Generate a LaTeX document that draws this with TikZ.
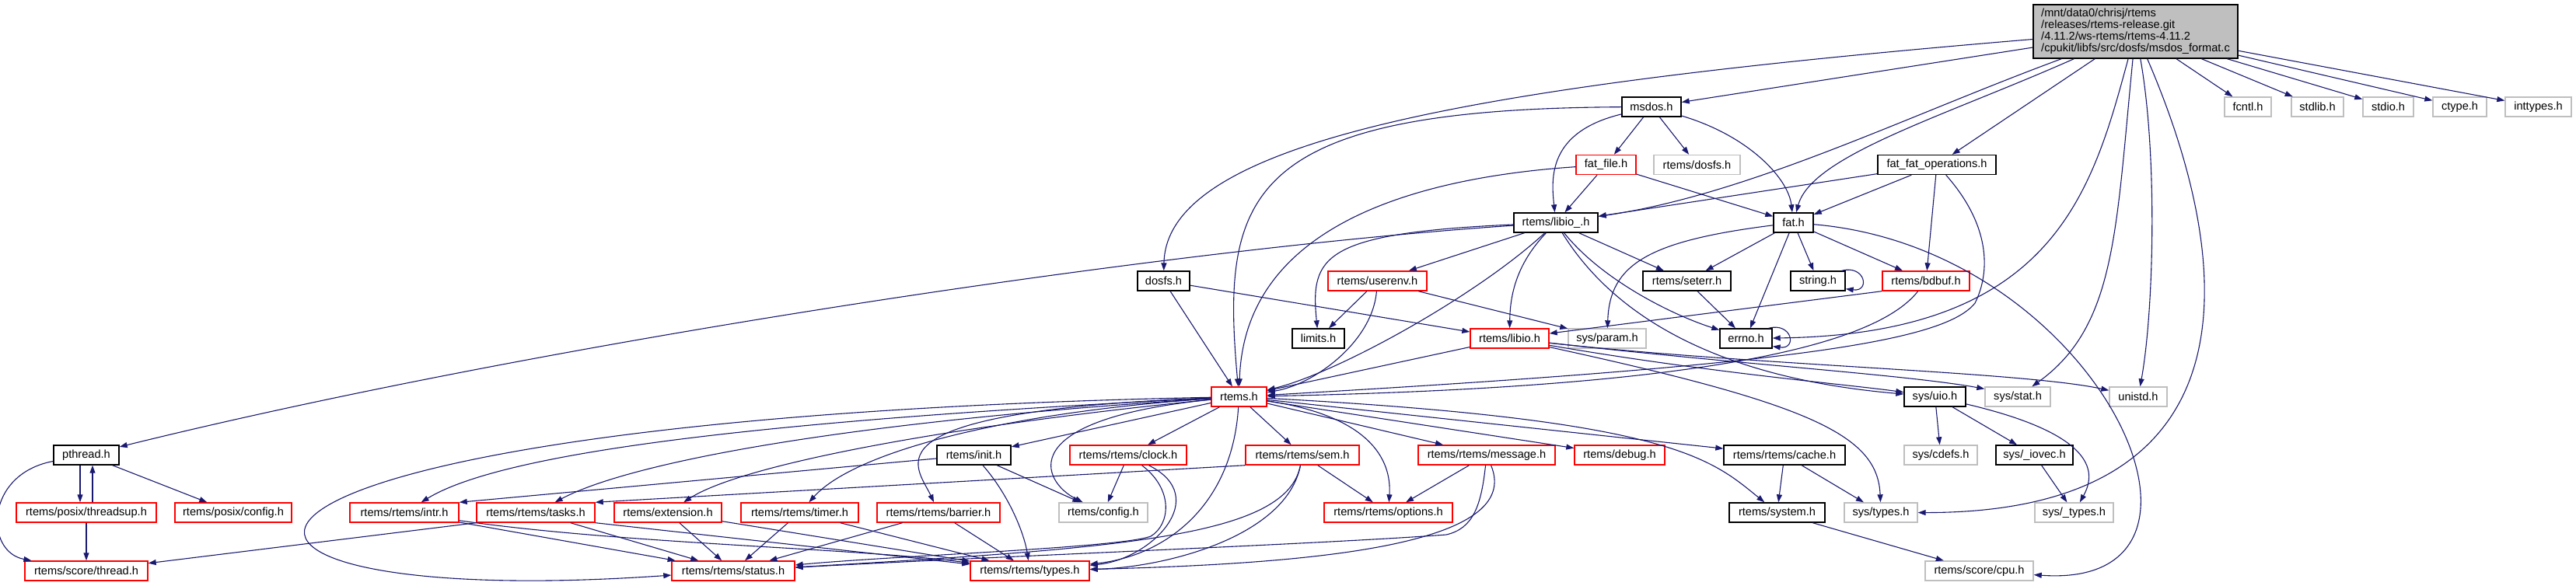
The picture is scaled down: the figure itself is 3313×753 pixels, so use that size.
\documentclass[tikz,border=0pt]{standalone}
\usepackage{fontspec}
\setmainfont{Liberation Sans}
\usetikzlibrary{arrows.meta}
\definecolor{edgeblue}{HTML}{191970}
\definecolor{nodegray}{HTML}{BFBFBF}
\begin{document}
\begin{tikzpicture}[x=1pt,y=1pt]
\tikzstyle{hdr} = [draw=black, line width=1.4pt, fill=white, minimum height=25pt, inner xsep=2pt, inner ysep=0pt, font=\fontsize{14.6}{15}\selectfont]
\tikzstyle{hdrred} = [hdr, draw=red]
\tikzstyle{hdrgray} = [hdr, draw=nodegray]
\tikzstyle{mainbox} = [hdr, fill=nodegray, align=left, minimum height=69pt]
\tikzstyle{inc} = [draw=edgeblue, line width=1.1pt, -{Triangle[length=10pt,width=7pt]}]
\useasboundingbox (0,0) rectangle (3313,-753);
\node[mainbox, minimum width=263pt] (main) at (2746.5,-40.5) {/mnt/data0/chrisj/rtems\\/releases/rtems-release.git\\/4.11.2/ws-rtems/rtems-4.11.2\\/cpukit/libfs/src/dosfs/msdos\_format.c};
\node[hdr, minimum width=76pt] (msdos) at (2124,-137.5) {msdos.h};
\node[hdrgray, minimum width=60pt] (fcntl) at (2891,-137.5) {fcntl.h};
\node[hdrgray, minimum width=67pt] (stdlib) at (2980.5,-137.5) {stdlib.h};
\node[hdrgray, minimum width=65pt] (stdio) at (3071.5,-137.5) {stdio.h};
\node[hdrgray, minimum width=69pt] (ctype) at (3163.5,-137.5) {ctype.h};
\node[hdrgray, minimum width=85pt] (inttypes) at (3264.5,-137.5) {inttypes.h};
\node[hdrred, minimum width=77pt] (fatfile) at (2065.5,-212) {fat\_file.h};
\node[hdrgray, minimum width=111pt] (rdosfs) at (2182.5,-212) {rtems/dosfs.h};
\node[hdr, minimum width=152pt] (ffo) at (2491,-212) {fat\_fat\_operations.h};
\node[hdr, minimum width=108pt] (libiou) at (2001,-286.5) {rtems/libio\_.h};
\node[hdr, minimum width=51pt] (fat) at (2306.5,-286.5) {fat.h};
\node[hdr, minimum width=67pt] (dosfs) at (1496.5,-361.5) {dosfs.h};
\node[hdrred, minimum width=127pt] (userenv) at (1771.5,-361.5) {rtems/userenv.h};
\node[hdr, minimum width=113pt] (seterr) at (2169.5,-361.5) {rtems/seterr.h};
\node[hdr, minimum width=70pt] (string) at (2338,-361.5) {string.h};
\node[hdrred, minimum width=112pt] (bdbuf) at (2477,-361.5) {rtems/bdbuf.h};
\node[hdr, minimum width=67pt] (limits) at (1695.5,-435.5) {limits.h};
\node[hdrred, minimum width=101pt] (libio) at (1941.5,-435.5) {rtems/libio.h};
\node[hdrgray, minimum width=100pt] (sysparam) at (2067,-435.5) {sys/param.h};
\node[hdr, minimum width=67pt] (errno) at (2245.5,-435.5) {errno.h};
\node[hdrred, minimum width=71pt] (rtems) at (1593.5,-510.5) {rtems.h};
\node[hdr, minimum width=79pt] (sysuio) at (2488.5,-510.5) {sys/uio.h};
\node[hdrgray, minimum width=84pt] (sysstat) at (2595,-510.5) {sys/stat.h};
\node[hdrgray, minimum width=74pt] (unistd) at (2750,-510.5) {unistd.h};
\node[hdr, minimum width=84pt] (pthread) at (111,-585.5) {pthread.h};
\node[hdr, minimum width=95pt] (init) at (1252.5,-585.5) {rtems/init.h};
\node[hdrred, minimum width=150pt] (clock) at (1451,-585.5) {rtems/rtems/clock.h};
\node[hdrred, minimum width=146pt] (sem) at (1675,-585.5) {rtems/rtems/sem.h};
\node[hdrred, minimum width=176pt] (message) at (1912,-585.5) {rtems/rtems/message.h};
\node[hdrred, minimum width=116pt] (debug) at (2083,-585.5) {rtems/debug.h};
\node[hdr, minimum width=156pt] (cache) at (2295,-585.5) {rtems/rtems/cache.h};
\node[hdrgray, minimum width=94pt] (syscdefs) at (2496,-585.5) {sys/cdefs.h};
\node[hdr, minimum width=99pt] (iovec) at (2616.5,-585.5) {sys/\_iovec.h};
\node[hdrred, minimum width=180pt] (threadsup) at (111,-659.5) {rtems/posix/threadsup.h};
\node[hdrred, minimum width=150pt] (posixcfg) at (300,-659.5) {rtems/posix/config.h};
\node[hdrred, minimum width=140pt] (intr) at (520,-659.5) {rtems/rtems/intr.h};
\node[hdrred, minimum width=152pt] (tasks) at (689,-659.5) {rtems/rtems/tasks.h};
\node[hdrred, minimum width=138pt] (extension) at (859,-659.5) {rtems/extension.h};
\node[hdrred, minimum width=151pt] (timer) at (1028.5,-659.5) {rtems/rtems/timer.h};
\node[hdrred, minimum width=158pt] (barrier) at (1207,-659.5) {rtems/rtems/barrier.h};
\node[hdrgray, minimum width=114pt] (config) at (1419,-659.5) {rtems/config.h};
\node[hdrred, minimum width=165pt] (options) at (1785.5,-659.5) {rtems/rtems/options.h};
\node[hdr, minimum width=123pt] (system) at (2285.5,-659.5) {rtems/system.h};
\node[hdrgray, minimum width=94pt] (systypes) at (2419,-659.5) {sys/types.h};
\node[hdrgray, minimum width=101pt] (sysutypes) at (2667.5,-659.5) {sys/\_types.h};
\node[hdrred, minimum width=158pt] (thread) at (111,-734.5) {rtems/score/thread.h};
\node[hdrred, minimum width=158pt] (status) at (943,-734.5) {rtems/rtems/status.h};
\node[hdrred, minimum width=153pt] (types) at (1324.5,-734.5) {rtems/rtems/types.h};
\node[hdrgray, minimum width=139pt] (cpu) at (2545.5,-734.5) {rtems/score/cpu.h};
\draw[inc] ([yshift=-10pt]main.west) .. controls (1900,-110) and (1500,-180) .. (dosfs);
\draw[inc] (main) -- (msdos);
\draw[inc] (main) .. controls (2450,-150) and (2250,-250) .. (libiou);
\draw[inc] (main) .. controls (2500,-150) and (2330,-200) .. (fat);
\draw[inc] (main) -- (ffo);
\draw[inc] (main) .. controls (2690,-250) and (2640,-430) .. (errno);
\draw[inc] (main) .. controls (2721,-300) and (2721,-420) .. (sysstat);
\draw[inc] (main) .. controls (2775,-200) and (2770,-400) .. (unistd);
\draw[inc] (main) .. controls (2880,-350) and (2900,-660) .. (systypes);
\draw[inc] (main) -- (fcntl);
\draw[inc] (main) -- (stdlib);
\draw[inc] (main) -- (stdio);
\draw[inc] (main) -- (ctype);
\draw[inc] (main) -- (inttypes);
\draw[inc] (msdos) .. controls (1600,-140) and (1570,-250) .. (rtems);
\draw[inc] (msdos) -- (fatfile);
\draw[inc] (msdos) -- (rdosfs);
\draw[inc] (msdos) .. controls (1990,-170) and (1995,-230) .. (libiou);
\draw[inc] (msdos) .. controls (2250,-175) and (2300,-230) .. (fat);
\draw[inc] (fatfile) .. controls (1800,-230) and (1600,-300) .. (rtems);
\draw[inc] (fatfile) -- (libiou);
\draw[inc] (fatfile) -- (fat);
\draw[inc] (ffo) -- (libiou);
\draw[inc] (ffo) -- (fat);
\draw[inc] (ffo) -- (bdbuf);
\draw[inc] (ffo) .. controls (2560,-290) and (2560,-350) .. (2540,-390) .. controls (2500,-440) and (2300,-470) .. (rtems);
\draw[inc] (fat) .. controls (2120,-310) and (2070,-340) .. (sysparam);
\draw[inc] (fat) -- (seterr);
\draw[inc] (fat) -- (errno);
\draw[inc] (fat) -- (string);
\draw[inc] (fat) -- (bdbuf);
\draw[inc] (fat) .. controls (2700,-320) and (2900,-760) .. (cpu);
\draw[inc] (seterr) -- (errno);
\draw[inc] ([xshift=-5pt]errno.north east) .. controls +(30,8) and +(32,-4) .. ([yshift=3pt]errno.south east);
\draw[inc] ([xshift=-5pt]string.north east) .. controls +(30,8) and +(32,-4) .. ([yshift=3pt]string.south east);
\draw[inc] (bdbuf.south west) -- (libio);
\draw[inc] (bdbuf) .. controls (2400,-460) and (2100,-500) .. (rtems);
\draw[inc] (libiou) .. controls (1500,-320) and (700,-440) .. (pthread);
\draw[inc] (libiou) .. controls (1700,-300) and (1685,-330) .. (limits);
\draw[inc] (libiou) -- (userenv);
\draw[inc] (libiou) .. controls (1900,-380) and (1720,-480) .. (rtems);
\draw[inc] (libiou) .. controls (1950,-340) and (1942,-380) .. (libio);
\draw[inc] (libiou) .. controls (2060,-360) and (2150,-405) .. (errno);
\draw[inc] (libiou) .. controls (2090,-430) and (2250,-490) .. (sysuio);
\draw[inc] (libiou) -- (seterr);
\draw[inc] (dosfs) -- (rtems);
\draw[inc] (dosfs) -- (libio);
\draw[inc] (userenv) -- (limits);
\draw[inc] (userenv) .. controls (1765,-440) and (1690,-495) .. (rtems);
\draw[inc] (userenv) -- (sysparam);
\draw[inc] (libio) -- (rtems);
\draw[inc] (libio) .. controls (2200,-480) and (2380,-495) .. (sysuio);
\draw[inc] (libio) .. controls (2250,-470) and (2450,-482) .. ([yshift=-3pt]sysstat.north west);
\draw[inc] (libio) .. controls (2250,-470) and (2600,-478) .. ([yshift=-5pt]unistd.north west);
\draw[inc] (libio) .. controls (2330,-520) and (2415,-560) .. (systypes);
\draw[inc] (sysuio) -- (syscdefs);
\draw[inc] (sysuio) -- (iovec);
\draw[inc] (sysuio) .. controls (2700,-560) and (2695,-610) .. (sysutypes);
\draw[inc] (iovec) -- (sysutypes);
\draw[inc] (rtems) -- (init);
\draw[inc] (rtems) -- (clock);
\draw[inc] (rtems) -- (sem);
\draw[inc] (rtems) -- (message);
\draw[inc] (rtems) -- (debug);
\draw[inc] (rtems) -- (cache);
\draw[inc] (rtems) .. controls (2150,-540) and (2200,-590) .. (system);
\draw[inc] (rtems) .. controls (1760,-535) and (1790,-590) .. (options);
\draw[inc] (rtems) .. controls (1000,-540) and (650,-580) .. (intr);
\draw[inc] (rtems) .. controls (1050,-545) and (800,-600) .. (tasks);
\draw[inc] (rtems) .. controls (1200,-550) and (950,-600) .. (extension);
\draw[inc] (rtems) .. controls (1300,-530) and (1100,-580) .. (timer);
\draw[inc] (rtems) .. controls (1100,-530) and (1180,-600) .. (barrier);
\draw[inc] (rtems) .. controls (1300,-540) and (1340,-620) .. (config);
\draw[inc] (rtems) .. controls (150,-540) and (150,-790) .. (status);
\draw[inc] (rtems) .. controls (1585,-650) and (1500,-715) .. (types);
\draw[inc] ([xshift=-8pt]pthread.south) -- ([xshift=-8pt]threadsup.north);
\draw[inc] ([xshift=8pt]threadsup.north) -- ([xshift=8pt]pthread.south);
\draw[inc] (pthread) -- (posixcfg);
\draw[inc] (pthread) .. controls (-20,-610) and (-20,-710) .. (thread);
\draw[inc] (threadsup) -- (thread);
\draw[inc] (init) -- (intr.north east);
\draw[inc] (init) -- (config);
\draw[inc] (init) .. controls (1300,-640) and (1318,-690) .. (types);
\draw[inc] (clock) -- (config);
\draw[inc] (clock) .. controls (1510,-630) and (1505,-675) .. (1480,-690) .. controls (1440,-705) and (1150,-715) .. (status);
\draw[inc] (clock) .. controls (1560,-640) and (1480,-720) .. (types);
\draw[inc] (sem.south west) -- (tasks.north east);
\draw[inc] (sem) -- (options);
\draw[inc] (sem) .. controls (1655,-690) and (1500,-730) .. (types);
\draw[inc] (sem) .. controls (1655,-690) and (1450,-705) .. (status);
\draw[inc] (message) -- (options);
\draw[inc] (message) .. controls (1905,-650) and (1895,-680) .. (1860,-688) .. controls (1700,-700) and (1300,-715) .. (status);
\draw[inc] (message) .. controls (1960,-700) and (1700,-725) .. (types);
\draw[inc] (extension) -- (status);
\draw[inc] (extension) -- (types);
\draw[inc] (timer) -- (status);
\draw[inc] (timer) -- (types);
\draw[inc] (barrier) -- (status);
\draw[inc] (barrier) -- (types);
\draw[inc] (intr) -- (status);
\draw[inc] (intr) .. controls (800,-700) and (1100,-705) .. (types);
\draw[inc] (tasks) -- (status);
\draw[inc] (tasks.south east) -- (types);
\draw[inc] (tasks.south west) -- (thread);
\draw[inc] (cache) -- (system);
\draw[inc] (cache) -- (systypes);
\draw[inc] (system) -- (cpu);
\end{tikzpicture}
\end{document}
